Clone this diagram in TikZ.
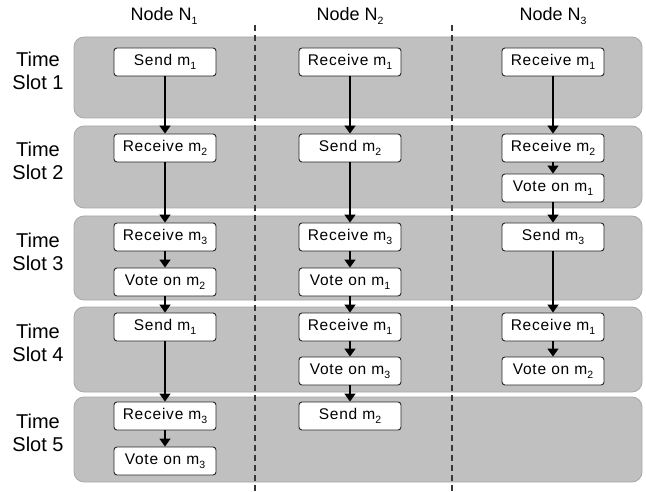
\documentclass[tikz,border=0pt]{standalone}
\usepackage{fontspec}
\setmainfont{Liberation Sans}
\newfontfamily\boxfont[LetterSpace=5]{Liberation Sans}
\usetikzlibrary{arrows.meta}
\newcommand\lowx[1]{\raisebox{-0.45ex}{\fontsize{10.5}{10.5}\selectfont #1}}
\definecolor{bandgray}{RGB}{192,192,192}
\definecolor{bandedge}{RGB}{168,168,168}
\definecolor{dashgray}{RGB}{55,55,55}
\begin{document}
\begin{tikzpicture}[x=1pt,y=-1pt,
  band/.style={fill=bandgray,draw=bandedge,line width=0.8pt,rounded corners=10pt},
  evbox/.style={draw=black!85,fill=white,line width=0.9pt,rounded corners=3pt,
    minimum width=102pt,minimum height=28pt,inner sep=0pt,
    font=\boxfont\fontsize{15.5}{15.5}\selectfont},
  flow/.style={line width=1.6pt,-{Triangle[width=11pt,length=8pt]}},
  hdr/.style={font=\fontsize{18}{18}\selectfont},
  slotlab/.style={align=center,font=\fontsize{20}{23}\selectfont},
  sep/.style={dashgray,line width=1.4pt,dash pattern=on 6pt off 4pt}]
\useasboundingbox (0,0) rectangle (646,492);
% bands
\path[band] (74,37) rectangle (642,118);
\path[band] (74,126) rectangle (642,208);
\path[band] (74,216) rectangle (642,300);
\path[band] (74,307) rectangle (642,392);
\path[band] (74,397) rectangle (642,482);
% separators
\draw[sep] (255,25) -- (255,492);
\draw[sep] (452,25) -- (452,492);
% headers
\node[hdr] (h1) at (164,16) {Node N\lowx{1}};
\node[hdr] (h2) at (350,16) {Node N\lowx{2}};
\node[hdr] (h3) at (553,16) {Node N\lowx{3}};
% slot labels
\node[slotlab] (t1) at (38,71) {Time\\Slot 1};
\node[slotlab] (t2) at (38,161) {Time\\Slot 2};
\node[slotlab] (t3) at (38,252) {Time\\Slot 3};
\node[slotlab] (t4) at (38,343) {Time\\Slot 4};
\node[slotlab] (t5) at (38,433) {Time\\Slot 5};
% node N1
\node[evbox] (A1) at (165,62) {Send m\lowx{1}};
\node[evbox] (A2) at (165,148) {Receive m\lowx{2}};
\node[evbox] (A3) at (165,237) {Receive m\lowx{3}};
\node[evbox] (A4) at (165,282) {Vote on m\lowx{2}};
\node[evbox] (A5) at (165,327) {Send m\lowx{1}};
\node[evbox] (A6) at (165,416) {Receive m\lowx{3}};
\node[evbox] (A7) at (165,461) {Vote on m\lowx{3}};
% node N2
\node[evbox] (B1) at (350,62) {Receive m\lowx{1}};
\node[evbox] (B2) at (350,148) {Send m\lowx{2}};
\node[evbox] (B3) at (350,237) {Receive m\lowx{3}};
\node[evbox] (B4) at (350,282) {Vote on m\lowx{1}};
\node[evbox] (B5) at (350,327) {Receive m\lowx{1}};
\node[evbox] (B6) at (350,371) {Vote on m\lowx{3}};
\node[evbox] (B7) at (350,416) {Send m\lowx{2}};
% node N3
\node[evbox] (C1) at (553,62) {Receive m\lowx{1}};
\node[evbox] (C2) at (553,148) {Receive m\lowx{2}};
\node[evbox] (C3) at (553,188) {Vote on m\lowx{1}};
\node[evbox] (C4) at (553,237) {Send m\lowx{3}};
\node[evbox] (C5) at (553,327) {Receive m\lowx{1}};
\node[evbox] (C6) at (553,371) {Vote on m\lowx{2}};
% arrows
\draw[flow] (A1) -- (A2);
\draw[flow] (A2) -- (A3);
\draw[flow] (A3) -- (A4);
\draw[flow] (A4) -- (A5);
\draw[flow] (A5) -- (A6);
\draw[flow] (A6) -- (A7);
\draw[flow] (B1) -- (B2);
\draw[flow] (B2) -- (B3);
\draw[flow] (B3) -- (B4);
\draw[flow] (B4) -- (B5);
\draw[flow] (B5) -- (B6);
\draw[flow] (B6) -- (B7);
\draw[flow] (C1) -- (C2);
\draw[flow] (C2) -- (C3);
\draw[flow] (C3) -- (C4);
\draw[flow] (C4) -- (C5);
\draw[flow] (C5) -- (C6);
\end{tikzpicture}
\end{document}
